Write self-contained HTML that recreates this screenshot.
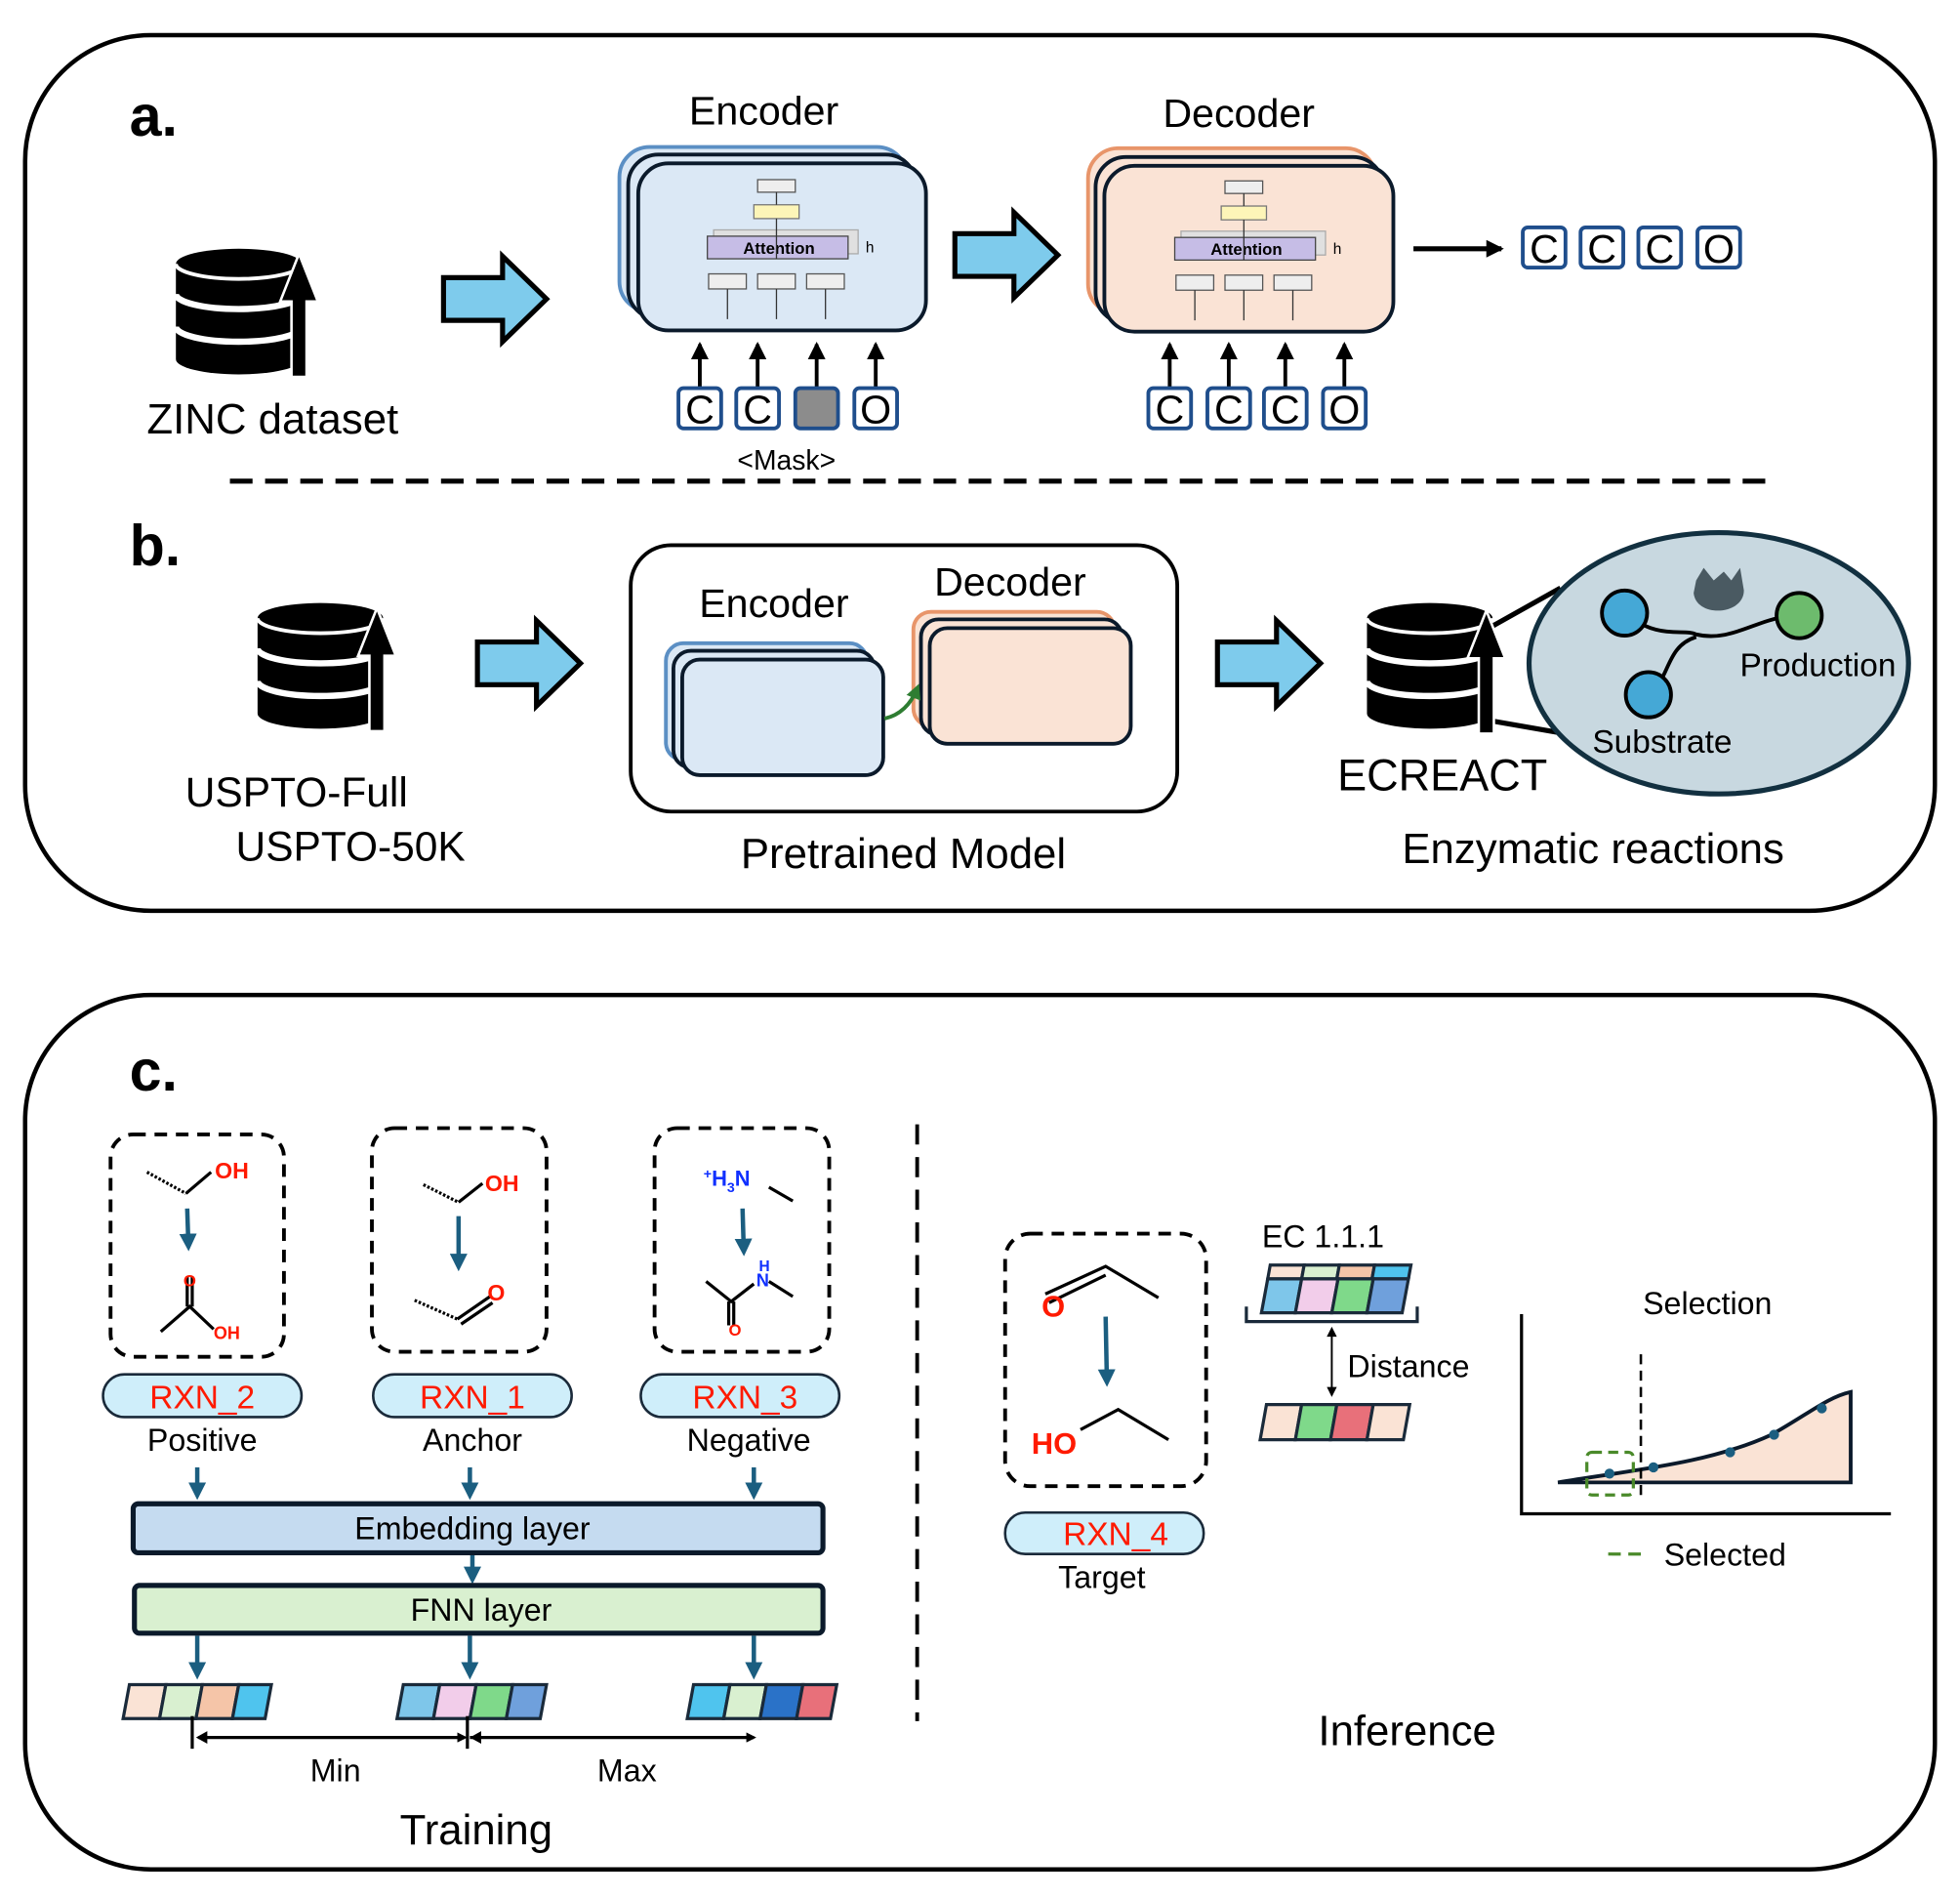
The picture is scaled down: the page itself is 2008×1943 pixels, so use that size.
<!DOCTYPE html>
<html><head><meta charset="utf-8"><style>
html,body{margin:0;padding:0;background:#fff}
svg{display:block}
text{font-family:"Liberation Sans",Arial,sans-serif}
</style></head><body>
<svg width="2008" height="1943" viewBox="0 0 1560 1510" preserveAspectRatio="none" xmlns="http://www.w3.org/2000/svg">
<defs>
<marker id="ak" markerWidth="8" markerHeight="8" refX="6" refY="4" orient="auto" markerUnits="userSpaceOnUse"><path d="M0,0 L8,4 L0,8z" fill="#000"/></marker>
<marker id="akL" markerWidth="14" markerHeight="14" refX="12" refY="7" orient="auto" markerUnits="userSpaceOnUse"><path d="M0,0 L14,7 L0,14z" fill="#000"/></marker>
<marker id="ab" markerWidth="14" markerHeight="14" refX="10" refY="7" orient="auto" markerUnits="userSpaceOnUse"><path d="M0,0 L14,7 L0,14z" fill="#1b5e80"/></marker>
<marker id="ag" markerWidth="12" markerHeight="12" refX="8" refY="6" orient="auto" markerUnits="userSpaceOnUse"><path d="M0,0 L12,6 L0,12z" fill="#2e7d32"/></marker>
<g id="db">
<ellipse cx="50" cy="12" rx="50" ry="12" fill="#000"/>
<path d="M0,12 V88 A50,12 0 0 0 100,88 V12z" fill="#000"/>
<path d="M0,36 A50,12 0 0 0 100,36" stroke="#fff" stroke-width="5" fill="none"/>
<path d="M0,62 A50,12 0 0 0 100,62" stroke="#fff" stroke-width="5" fill="none"/>
<path d="M0,12 A50,12 0 0 0 100,12" stroke="#fff" stroke-width="3" fill="none"/>
</g>
<g id="uparrow">
<path d="M-6,100 V40 H-15 L0,2 L15,40 H6 V100z" fill="#000" stroke="#fff" stroke-width="2"/>
</g>
<g id="bigarrow">
<path d="M0,17 H47 V0 L82,34 L47,68 V51 H0z" fill="#7ecbec" stroke="#000" stroke-width="4" stroke-linejoin="miter"/>
</g>
</defs>

<rect x="20" y="28" width="1520" height="697" rx="100" fill="none" stroke="#000" stroke-width="3.5"/>
<rect x="20" y="792" width="1520" height="696" rx="100" fill="none" stroke="#000" stroke-width="3.5"/>
<text x="103" y="108" font-size="46" font-weight="bold">a.</text>
<text x="103" y="450" font-size="46" font-weight="bold">b.</text>
<text x="103" y="868" font-size="46" font-weight="bold">c.</text>
<line x1="183" y1="383" x2="1410" y2="383" stroke="#000" stroke-width="4" stroke-dasharray="18,10"/>

<!-- a -->
<use href="#db" x="140" y="198"/>
<use href="#uparrow" x="238" y="200"/>
<text x="217" y="345" font-size="34" text-anchor="middle">ZINC dataset</text>
<use href="#bigarrow" x="353" y="204"/>

<text x="608" y="99" font-size="32" text-anchor="middle">Encoder</text>
<rect x="493" y="117" width="229" height="131" rx="24" fill="#dbe8f5" stroke="#5b8fc4" stroke-width="3"/>
<rect x="500" y="123" width="229" height="131" rx="24" fill="#dbe8f5" stroke="#0b1a2b" stroke-width="3"/>
<rect x="508" y="130" width="229" height="133" rx="24" fill="#dbe8f5" stroke="#0b1a2b" stroke-width="3"/>
<g id="inner">
<rect x="603" y="143" width="30" height="10" fill="#eee" stroke="#555"/>
<rect x="600" y="163" width="36" height="11" fill="#fdf5b8" stroke="#777"/>
<rect x="568" y="183" width="115" height="19" fill="#e0e0e0" stroke="#aaa"/>
<rect x="563" y="188" width="112" height="18" fill="#c6bde6" stroke="#444"/>
<text x="620" y="202" font-size="13" font-weight="bold" text-anchor="middle">Attention</text>
<text x="689" y="201" font-size="12">h</text>
<rect x="564" y="218" width="30" height="12" fill="#eee" stroke="#555"/>
<rect x="603" y="218" width="30" height="12" fill="#eee" stroke="#555"/>
<rect x="642" y="218" width="30" height="12" fill="#eee" stroke="#555"/>
<path d="M579,254 V230 M618,254 V230 M657,254 V230 M618,206 V174 M618,163 V153" stroke="#333" stroke-width="1"/>
</g>
<g stroke="#000" stroke-width="3">
<line x1="557" y1="310" x2="557" y2="274" marker-end="url(#akL)"/>
<line x1="603" y1="310" x2="603" y2="274" marker-end="url(#akL)"/>
<line x1="650" y1="310" x2="650" y2="274" marker-end="url(#akL)"/>
<line x1="697" y1="310" x2="697" y2="274" marker-end="url(#akL)"/>
</g>
<g fill="#fff" stroke="#1f4e8c" stroke-width="3">
<rect x="540" y="309" width="34" height="32" rx="4"/><rect x="586" y="309" width="34" height="32" rx="4"/>
<rect x="633" y="309" width="34" height="32" rx="4" fill="#8c8c8c"/><rect x="680" y="309" width="34" height="32" rx="4"/>
</g>
<g font-size="32" text-anchor="middle"><text x="557" y="337">C</text><text x="603" y="337">C</text><text x="697" y="337">O</text></g>
<text x="626" y="374" font-size="22" text-anchor="middle">&lt;Mask&gt;</text>

<use href="#bigarrow" x="760" y="169"/>

<text x="986" y="101" font-size="32" text-anchor="middle">Decoder</text>
<rect x="866" y="118" width="229" height="132" rx="24" fill="#fae3d5" stroke="#e8956a" stroke-width="3"/>
<rect x="872" y="125" width="229" height="132" rx="24" fill="#fae3d5" stroke="#0b1a2b" stroke-width="3"/>
<rect x="879" y="132" width="230" height="132" rx="24" fill="#fae3d5" stroke="#0b1a2b" stroke-width="3"/>
<use href="#inner" x="372" y="1"/>
<g stroke="#000" stroke-width="3">
<line x1="931" y1="310" x2="931" y2="274" marker-end="url(#akL)"/>
<line x1="978" y1="310" x2="978" y2="274" marker-end="url(#akL)"/>
<line x1="1023" y1="310" x2="1023" y2="274" marker-end="url(#akL)"/>
<line x1="1070" y1="310" x2="1070" y2="274" marker-end="url(#akL)"/>
</g>
<g fill="#fff" stroke="#1f4e8c" stroke-width="3">
<rect x="914" y="309" width="34" height="32" rx="4"/><rect x="961" y="309" width="34" height="32" rx="4"/>
<rect x="1006" y="309" width="34" height="32" rx="4"/><rect x="1053" y="309" width="34" height="32" rx="4"/>
</g>
<g font-size="32" text-anchor="middle"><text x="931" y="337">C</text><text x="978" y="337">C</text><text x="1023" y="337">C</text><text x="1070" y="337">O</text></g>
<line x1="1125" y1="198" x2="1195" y2="198" stroke="#000" stroke-width="4" marker-end="url(#akL)"/>
<g fill="#fff" stroke="#1f4e8c" stroke-width="3">
<rect x="1212" y="181" width="34" height="32" rx="4"/><rect x="1258" y="181" width="34" height="32" rx="4"/>
<rect x="1304" y="181" width="34" height="32" rx="4"/><rect x="1351" y="181" width="34" height="32" rx="4"/>
</g>
<g font-size="32" text-anchor="middle"><text x="1229" y="209">C</text><text x="1275" y="209">C</text><text x="1321" y="209">C</text><text x="1368" y="209">O</text></g>

<!-- b -->
<use href="#db" x="205" y="480"/>
<use href="#uparrow" x="300" y="482"/>
<text x="236" y="642" font-size="33" text-anchor="middle">USPTO-Full</text>
<text x="279" y="685" font-size="33" text-anchor="middle">USPTO-50K</text>
<use href="#bigarrow" x="380" y="494"/>
<rect x="502" y="434" width="435" height="212" rx="32" fill="#fff" stroke="#000" stroke-width="3"/>
<text x="616" y="491" font-size="32" text-anchor="middle">Encoder</text>
<text x="804" y="474" font-size="32" text-anchor="middle">Decoder</text>
<rect x="530" y="512" width="160" height="93" rx="14" fill="#dbe8f5" stroke="#5b8fc4" stroke-width="3"/>
<rect x="536" y="518" width="160" height="93" rx="14" fill="#dbe8f5" stroke="#0b1a2b" stroke-width="3"/>
<rect x="543" y="525" width="160" height="92" rx="14" fill="#dbe8f5" stroke="#0b1a2b" stroke-width="3"/>
<rect x="727" y="487" width="160" height="91" rx="14" fill="#fae3d5" stroke="#e8956a" stroke-width="3"/>
<rect x="733" y="493" width="160" height="92" rx="14" fill="#fae3d5" stroke="#0b1a2b" stroke-width="3"/>
<rect x="740" y="500" width="160" height="92" rx="14" fill="#fae3d5" stroke="#0b1a2b" stroke-width="3"/>
<path d="M704,572 Q722,568 730,548" stroke="#2e7d32" stroke-width="3" fill="none" marker-end="url(#ag)"/>
<text x="719" y="691" font-size="34" text-anchor="middle">Pretrained Model</text>
<use href="#bigarrow" x="969" y="494"/>
<line x1="1185" y1="500" x2="1242" y2="468" stroke="#000" stroke-width="4"/>
<line x1="1188" y1="574" x2="1240" y2="583" stroke="#000" stroke-width="4"/>
<ellipse cx="1368" cy="528" rx="151" ry="104" fill="#c8d8e0" stroke="#123040" stroke-width="4"/>
<use href="#db" x="1088" y="480"/>
<use href="#uparrow" x="1183" y="484"/>
<path d="M1293,488 C1320,510 1340,500 1350,505 C1380,512 1400,490 1432,490" stroke="#000" stroke-width="3" fill="none"/>
<path d="M1312,553 C1330,540 1325,515 1350,507" stroke="#000" stroke-width="3" fill="none"/>
<circle cx="1293" cy="488" r="18" fill="#45a8d6" stroke="#000" stroke-width="3"/>
<circle cx="1432" cy="490" r="18" fill="#6dbb6d" stroke="#000" stroke-width="3"/>
<circle cx="1312" cy="553" r="18" fill="#45a8d6" stroke="#000" stroke-width="3"/>
<path d="M1350,462 L1356,452 L1364,462 L1372,455 L1378,462 L1385,452 L1388,470 C1388,490 1350,492 1348,472z" fill="#4a5a62"/>
<text x="1447" y="538" font-size="26" text-anchor="middle">Production</text>
<text x="1323" y="599" font-size="26" text-anchor="middle">Substrate</text>
<text x="1148" y="629" font-size="35" text-anchor="middle">ECREACT</text>
<text x="1268" y="687" font-size="34" text-anchor="middle">Enzymatic reactions</text>

<!-- c training -->
<g fill="none" stroke="#000" stroke-width="3" stroke-dasharray="10,7">
<rect x="88" y="903" width="138" height="177" rx="18"/>
<rect x="296" y="898" width="139" height="178" rx="18"/>
<rect x="521" y="898" width="139" height="178" rx="18"/>
<line x1="730" y1="895" x2="730" y2="1370" stroke-dasharray="16,10"/>
<rect x="800" y="982" width="160" height="201" rx="20"/>
</g>
<g stroke="#000" stroke-width="2.5" fill="none">
<path d="M117,933 L148,950" stroke-dasharray="2,1.5"/>
<path d="M148,950 L168,933"/>
<path d="M128,1060 L151,1040 L170,1058 M149,1040 V1016 M153,1040 V1016"/>
<path d="M337,943 L365,957" stroke-dasharray="2,1.5"/><path d="M365,957 L384,942"/>
<path d="M330,1035 L364,1050" stroke-dasharray="2,1.5"/><path d="M364,1050 L390,1032 M367,1054 L392,1037"/>
<path d="M612,945 L631,956"/>
<path d="M562,1020 L582,1036 L600,1022 M580,1036 V1055 M584,1036 V1055 M612,1020 L631,1032"/>
<path d="M832,1030 L880,1008 L922,1033 M835,1037 L880,1015"/>
<path d="M860,1138 L890,1122 L930,1146"/>
</g>
<g font-weight="bold" font-size="18" fill="#ff1a00">
<text x="171" y="938">OH</text><text x="386" y="948">OH</text><text x="388" y="1035">O</text>
<text x="146" y="1024" font-size="13">O</text><text x="170" y="1066" font-size="14">OH</text>
<text x="580" y="1063" font-size="13">O</text>
<text x="829" y="1048" font-size="24">O</text><text x="821" y="1157" font-size="24">HO</text>
</g>
<g font-weight="bold" fill="#1030ff">
<text x="560" y="944" font-size="17"><tspan font-size="11" dy="-6">+</tspan><tspan dy="6">H</tspan><tspan font-size="11" dy="5">3</tspan><tspan dy="-5">N</tspan></text>
<text x="604" y="1012" font-size="12">H</text><text x="602" y="1024" font-size="14">N</text>
</g>
<g stroke="#1b5e80" stroke-width="3.5">
<line x1="149" y1="962" x2="150" y2="992" marker-end="url(#ab)"/>
<line x1="365" y1="968" x2="365" y2="1008" marker-end="url(#ab)"/>
<line x1="591" y1="962" x2="592" y2="996" marker-end="url(#ab)"/>
<line x1="880" y1="1048" x2="881" y2="1100" marker-end="url(#ab)"/>
<line x1="157" y1="1168" x2="157" y2="1190" marker-end="url(#ab)"/>
<line x1="374" y1="1168" x2="374" y2="1190" marker-end="url(#ab)"/>
<line x1="600" y1="1168" x2="600" y2="1190" marker-end="url(#ab)"/>
<line x1="376" y1="1238" x2="376" y2="1257" marker-end="url(#ab)"/>
<line x1="157" y1="1302" x2="157" y2="1333" marker-end="url(#ab)"/>
<line x1="374" y1="1302" x2="374" y2="1333" marker-end="url(#ab)"/>
<line x1="600" y1="1302" x2="600" y2="1333" marker-end="url(#ab)"/>
</g>
<g fill="#cfeefa" stroke="#1a2a3a" stroke-width="2">
<rect x="82" y="1094" width="158" height="34" rx="17"/>
<rect x="297" y="1094" width="158" height="34" rx="17"/>
<rect x="510" y="1094" width="158" height="34" rx="17"/>
<rect x="800" y="1204" width="158" height="33" rx="16"/>
</g>
<g font-size="26" fill="#ff1a00" text-anchor="middle">
<text x="161" y="1121">RXN_2</text><text x="376" y="1121">RXN_1</text><text x="593" y="1121">RXN_3</text><text x="888" y="1230">RXN_4</text>
</g>
<g font-size="25" text-anchor="middle">
<text x="161" y="1155">Positive</text><text x="376" y="1155">Anchor</text><text x="596" y="1155">Negative</text><text x="877" y="1264">Target</text>
</g>
<rect x="106" y="1197" width="549" height="39" rx="4" fill="#c5dbf0" stroke="#0b1a2b" stroke-width="4"/>
<text x="376" y="1225" font-size="25" text-anchor="middle">Embedding layer</text>
<rect x="107" y="1262" width="548" height="38" rx="4" fill="#d9f0d0" stroke="#0b1a2b" stroke-width="4"/>
<text x="383" y="1290" font-size="25" text-anchor="middle">FNN layer</text>
<g stroke="#1a2a3a" stroke-width="2.5">
<path d="M103,1341 h29 l-5,27 h-29z" fill="#fae3d5"/><path d="M132,1341 h29 l-5,27 h-29z" fill="#d9f0d0"/><path d="M161,1341 h29 l-5,27 h-29z" fill="#f5c5a8"/><path d="M190,1341 h26 l-5,27 h-26z" fill="#4fc4ee"/>
<path d="M321,1341 h29 l-5,27 h-29z" fill="#7ec6ea"/><path d="M350,1341 h29 l-5,27 h-29z" fill="#f2cdea"/><path d="M379,1341 h29 l-5,27 h-29z" fill="#7fd98a"/><path d="M408,1341 h27 l-5,27 h-27z" fill="#6fa0dc"/>
<path d="M552,1341 h29 l-5,27 h-29z" fill="#4fc4ee"/><path d="M581,1341 h29 l-5,27 h-29z" fill="#d9f0d0"/><path d="M610,1341 h29 l-5,27 h-29z" fill="#2a72c8"/><path d="M639,1341 h27 l-5,27 h-27z" fill="#e8707a"/>
</g>
<g stroke="#000" stroke-width="2.5">
<line x1="153" y1="1366" x2="153" y2="1392"/><line x1="372" y1="1366" x2="372" y2="1392"/>
<line x1="158" y1="1383" x2="370" y2="1383" marker-end="url(#ak)"/>
<line x1="374" y1="1383" x2="600" y2="1383" marker-end="url(#ak)"/>
</g>
<path d="M156,1383 l9,-5 v10z M374,1383 l9,-5 v10z" fill="#000"/>
<text x="267" y="1418" font-size="25" text-anchor="middle">Min</text>
<text x="499" y="1418" font-size="25" text-anchor="middle">Max</text>
<text x="379" y="1468" font-size="34" text-anchor="middle">Training</text>

<!-- inference -->
<text x="1053" y="993" font-size="25" text-anchor="middle">EC 1.1.1</text>
<g stroke="#1a2a3a" stroke-width="2.5">
<path d="M1011,1007 h27 l-2,11 h-27z" fill="#fae3d5"/><path d="M1038,1007 h28 l-2,11 h-28z" fill="#d9f0d0"/><path d="M1066,1007 h28 l-2,11 h-28z" fill="#f5c5a8"/><path d="M1094,1007 h29 l-2,11 h-29z" fill="#4fc4ee"/>
<path d="M1009,1018 h27 l-5,27 h-27z" fill="#7ec6ea"/><path d="M1036,1018 h29 l-5,27 h-29z" fill="#f2cdea"/><path d="M1065,1018 h28 l-5,27 h-28z" fill="#7fd98a"/><path d="M1093,1018 h28 l-5,27 h-28z" fill="#6fa0dc"/>
<path d="M1008,1118 h28 l-5,28 h-28z" fill="#fae3d5"/><path d="M1036,1118 h28 l-5,28 h-28z" fill="#7fd98a"/><path d="M1064,1118 h29 l-5,28 h-29z" fill="#e8707a"/><path d="M1093,1118 h29 l-5,28 h-29z" fill="#fae3d5"/>
</g>
<path d="M992,1040 v12 h136 v-12" fill="none" stroke="#1a2a3a" stroke-width="2.5"/>
<line x1="1060" y1="1062" x2="1060" y2="1110" stroke="#000" stroke-width="1.5" marker-end="url(#ak)"/>
<path d="M1060,1056 l-4,8 h8z" fill="#000"/>
<text x="1121" y="1096" font-size="25" text-anchor="middle">Distance</text>
<text x="1359" y="1046" font-size="25" text-anchor="middle">Selection</text>
<path d="M1211,1046 V1205 H1505" fill="none" stroke="#000" stroke-width="2.5"/>
<path d="M1240,1180 C1300,1170 1360,1165 1410,1142 C1440,1125 1455,1112 1473,1108 V1180z" fill="#fae3d5" stroke="#0b1a2b" stroke-width="3"/>
<line x1="1306" y1="1078" x2="1306" y2="1190" stroke="#000" stroke-width="2" stroke-dasharray="8,5"/>
<rect x="1263" y="1156" width="37" height="34" rx="4" fill="none" stroke="#4a8a2a" stroke-width="2.5" stroke-dasharray="8,5"/>
<g fill="#1b5e80"><circle cx="1281" cy="1173" r="4"/><circle cx="1316" cy="1168" r="4"/><circle cx="1377" cy="1156" r="4"/><circle cx="1412" cy="1142" r="4"/><circle cx="1450" cy="1121" r="4"/></g>
<line x1="1280" y1="1237" x2="1312" y2="1237" stroke="#4a8a2a" stroke-width="2.5" stroke-dasharray="10,6"/>
<text x="1373" y="1246" font-size="25" text-anchor="middle">Selected</text>
<text x="1120" y="1389" font-size="34" text-anchor="middle">Inference</text>
</svg>
</body></html>
